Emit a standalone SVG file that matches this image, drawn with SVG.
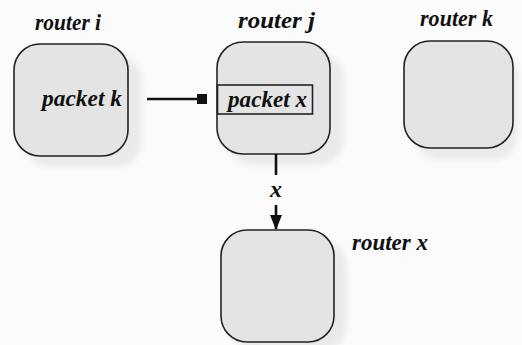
<svg xmlns="http://www.w3.org/2000/svg" width="522" height="345" viewBox="0 0 522 345">
  <style>
    .router { fill: #e4e4e4; stroke: #222; stroke-width: 1.6; }
    .shadow { fill: #eaeaea; filter: url(#soft); }
    .label { font-family: "Liberation Serif", "Times New Roman", serif; font-style: italic; font-weight: bold; font-size: 24px; fill: #111; }
    .link { stroke: #111; stroke-width: 2.6; fill: none; }
  </style>
  <defs>
    <filter id="soft" x="-20%" y="-20%" width="140%" height="140%">
      <feGaussianBlur stdDeviation="3"/>
    </filter>
    <marker id="head" viewBox="0 0 15 12" refX="14" refY="6" markerWidth="5.8" markerHeight="4.6" orient="auto" markerUnits="strokeWidth">
      <path d="M0,0 L15,6 L0,12 z" fill="#111"/>
    </marker>
  </defs>

  <rect width="522" height="345" fill="#fbfbfb"/>

  <g id="router-i">
    <rect class="shadow" x="24" y="55" width="118" height="112" rx="26"/>
    <rect class="router" x="14" y="44" width="114" height="112" rx="26"/>
    <text class="label" x="35" y="30" textLength="66" lengthAdjust="spacingAndGlyphs">router i</text>
    <text class="label" x="42" y="106" textLength="80" lengthAdjust="spacingAndGlyphs">packet k</text>
  </g>

  <g id="router-j">
    <rect class="shadow" x="227" y="53" width="117" height="112" rx="26"/>
    <rect class="router" x="217" y="42" width="113" height="112" rx="26"/>
    <rect x="217.5" y="85" width="95" height="29" fill="none" stroke="#222" stroke-width="1.6"/>
    <text class="label" x="238" y="28" textLength="77" lengthAdjust="spacingAndGlyphs">router j</text>
    <text class="label" x="228" y="107" textLength="79" lengthAdjust="spacingAndGlyphs">packet x</text>
  </g>

  <g id="router-k">
    <rect class="shadow" x="414" y="52" width="104" height="108" rx="26"/>
    <rect class="router" x="404" y="41" width="109" height="107" rx="26"/>
    <text class="label" x="420" y="26" textLength="73" lengthAdjust="spacingAndGlyphs">router k</text>
  </g>

  <g id="router-x">
    <rect class="shadow" x="231" y="241" width="116" height="110" rx="26"/>
    <rect class="router" x="221" y="230" width="113" height="112" rx="26"/>
    <text class="label" x="352" y="250" textLength="76" lengthAdjust="spacingAndGlyphs">router x</text>
  </g>

  <g id="connectors">
    <line class="link" x1="147" y1="99" x2="198" y2="99"/>
    <rect x="197" y="94" width="10" height="10" fill="#111"/>
    <line class="link" x1="276" y1="154" x2="276" y2="175"/>
    <text class="label" x="270" y="197" font-size="21px">x</text>
    <line class="link" x1="276" y1="205" x2="276" y2="229" marker-end="url(#head)"/>
  </g>
</svg>
